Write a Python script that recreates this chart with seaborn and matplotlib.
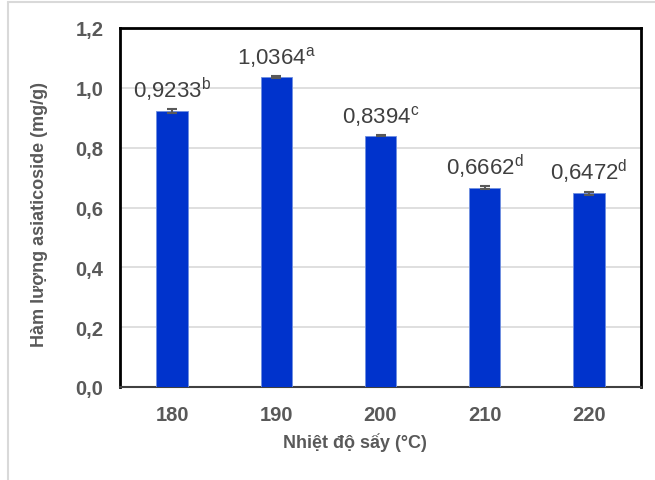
import numpy as np
import pandas as pd
import matplotlib
matplotlib.use("Agg")
import matplotlib.pyplot as plt
import seaborn as sns
from matplotlib.lines import Line2D

# données
nhiet_do = ["180", "190", "200", "210", "220"]
ham_luong = [0.9233, 1.0364, 0.8394, 0.6662, 0.6472]
sai_so = [0.006, 0.003, 0.002, 0.006, 0.006]
chu_cai = ["b", "a", "c", "d", "d"]
y_ticks = [0.0, 0.2, 0.4, 0.6, 0.8, 1.0, 1.2]

df = pd.DataFrame({"Nhiet do": nhiet_do, "Ham luong": ham_luong})

sns.set_style("white")
plt.rcParams["font.family"] = ["Liberation Sans", "DejaVu Sans"]
plt.rcParams["mathtext.fontset"] = "custom"
plt.rcParams["mathtext.rm"] = "Liberation Sans"

fig = plt.figure(figsize=(6.55, 4.81), dpi=100)
ax = fig.add_axes([120 / 655, 1 - 388 / 481, 521 / 655, 359 / 481])

sns.barplot(data=df, x="Nhiet do", y="Ham luong", color="#0033CC",
            width=0.3, edgecolor="#6f8fe0", linewidth=0.6, saturation=1,
            ax=ax, zorder=3)
ax.errorbar(range(len(nhiet_do)), ham_luong, yerr=sai_so, fmt="none",
            ecolor="#595959", elinewidth=1.5, capsize=3.5, capthick=1.5, zorder=4)

for i, (v, c) in enumerate(zip(ham_luong, chu_cai)):
    txt = f"{v:.4f}".replace(".", ",") + r"$^{\mathrm{" + c + "}}$"
    ax.annotate(txt, (i, v), xytext=(0, 10), textcoords="offset points",
                ha="center", va="baseline", fontsize=16, color="#404040")

ax.set_ylim(0, 1.2)
ax.set_yticks(y_ticks)
ax.set_yticklabels([f"{t:.1f}".replace(".", ",") for t in y_ticks])
ax.set_xlim(-0.5, len(nhiet_do) - 0.5)
ax.yaxis.grid(True, color="#d9d9d9", linewidth=1.2, zorder=0)
ax.set_axisbelow(True)
for side in ["top", "left", "right"]:
    ax.spines[side].set_color("black")
    ax.spines[side].set_linewidth(2)
ax.spines["bottom"].set_color("#404040")
ax.spines["bottom"].set_linewidth(1.5)
ax.tick_params(axis="both", length=0, labelsize=14.5, labelcolor="#595959")
ax.tick_params(axis="x", pad=13)
ax.tick_params(axis="y", pad=12)
for lab in ax.get_xticklabels() + ax.get_yticklabels():
    lab.set_fontweight("bold")

ax.set_xlabel("Nhiệt độ sấy (°C)", fontsize=13, fontweight="bold", color="#595959")
ax.set_ylabel("Hàm lượng asiaticoside (mg/g)", fontsize=13, fontweight="bold",
              color="#595959")
ax.xaxis.set_label_coords(0.45, -0.125)
ax.yaxis.set_label_coords(-0.138, 0.482)

# cadre gris clair de la figure
fig.add_artist(Line2D([8 / 655, 1], [1 - 3 / 481, 1 - 3 / 481],
                      transform=fig.transFigure, color="#d9d9d9", linewidth=1.5))
fig.add_artist(Line2D([8 / 655, 8 / 655], [0, 1 - 3 / 481],
                      transform=fig.transFigure, color="#d9d9d9", linewidth=1.5))

plt.savefig("out.png", dpi=100)
